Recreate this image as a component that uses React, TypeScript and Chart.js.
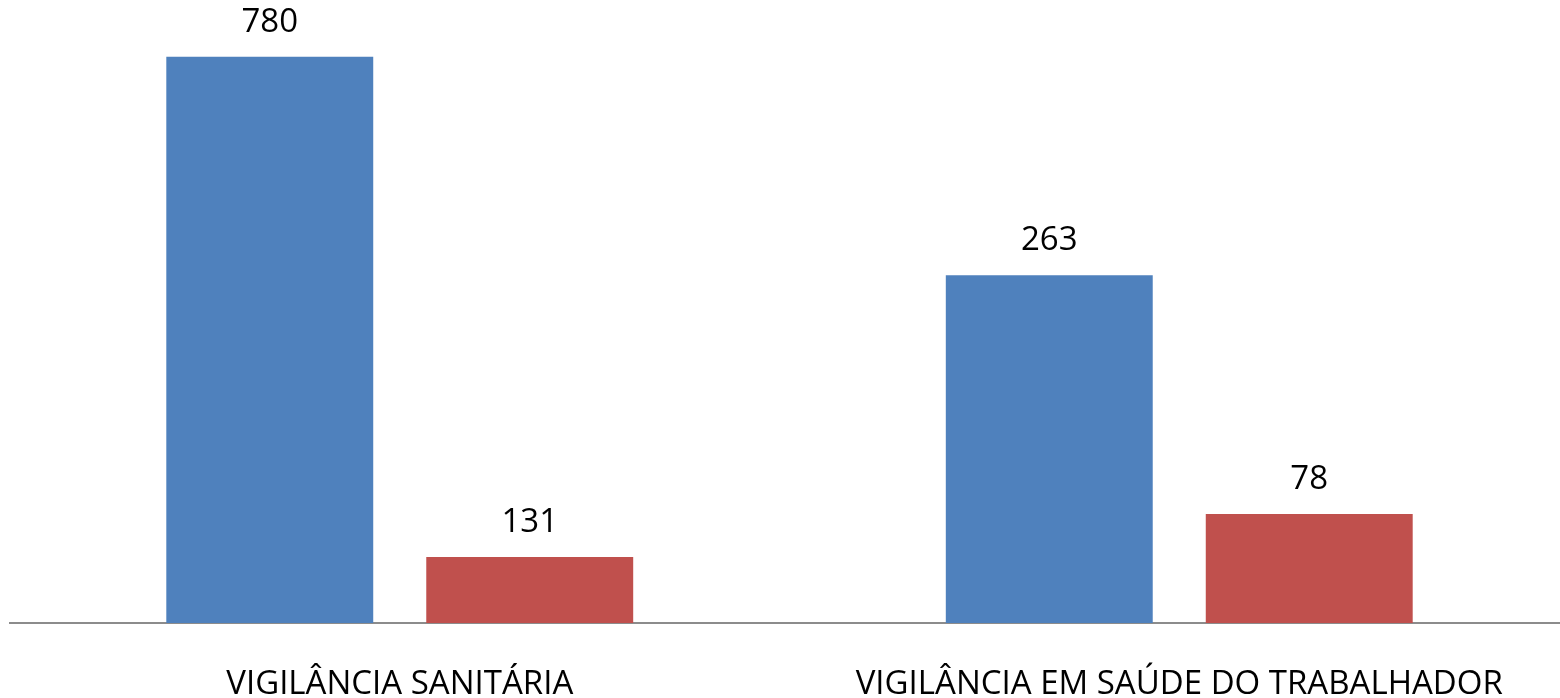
import React, { useEffect, useRef } from "react";
import { Chart, registerables } from "chart.js";

Chart.register(...registerables);

const categories = ["VIGILÂNCIA SANITÁRIA", "VIGILÂNCIA EM SAÚDE DO TRABALHADOR"];
const blueBars = [780, 479];
const redBars = [91, 150];
const blueLabels = ["780", "263"];
const redLabels = ["131", "78"];

const FONT = "'Open Sans', sans-serif";

const labelPlugin = {
  id: "barLabels",
  afterDatasetsDraw(chart: any) {
    const ctx = chart.ctx;
    ctx.save();
    ctx.fillStyle = "#000000";
    ctx.font = `33px ${FONT}`;
    ctx.textAlign = "center";
    ctx.textBaseline = "alphabetic";
    chart.data.datasets.forEach((ds: any, di: number) => {
      const meta = chart.getDatasetMeta(di);
      meta.data.forEach((bar: any, i: number) => {
        const text = ds.labelsText[i];
        ctx.fillText(text, bar.x, bar.y - 25);
      });
    });
    ctx.restore();
  },
};

export default function App() {
  const ref = useRef<HTMLCanvasElement | null>(null);
  useEffect(() => {
    document.body.style.margin = "0";
    const chart = new Chart(ref.current as HTMLCanvasElement, {
      type: "bar",
      data: {
        labels: categories,
        datasets: [
          {
            data: blueBars,
            backgroundColor: "#4F81BD",
            labelsText: blueLabels,
            categoryPercentage: 0.667,
            barPercentage: 0.796,
          } as any,
          {
            data: redBars,
            backgroundColor: "#C0504D",
            labelsText: redLabels,
            categoryPercentage: 0.667,
            barPercentage: 0.796,
          } as any,
        ],
      },
      options: {
        responsive: false,
        animation: false,
        layout: { padding: { left: 10, right: 1, top: 0, bottom: 0 } },
        plugins: { legend: { display: false }, tooltip: { enabled: false } },
        scales: {
          x: {
            grid: { display: false, drawTicks: false },
            border: { display: true, color: "#8C8C8C", width: 2 },
            ticks: {
              color: "#000000",
              font: { family: FONT, size: 33 },
              padding: 42,
              maxRotation: 0,
              autoSkip: false,
            },
            afterFit(scale: any) {
              scale.height = 75;
            },
          },
          y: {
            display: false,
            min: 0,
            max: 858,
          },
        },
      },
      plugins: [labelPlugin],
    });
    return () => chart.destroy();
  }, []);
  return (
    <div style={{ position: "absolute", left: 0, top: 0, width: 1560, height: 698, overflow: "hidden", background: "#ffffff" }}>
      <canvas ref={ref} width={1570} height={698} style={{ display: "block" }} />
    </div>
  );
}
